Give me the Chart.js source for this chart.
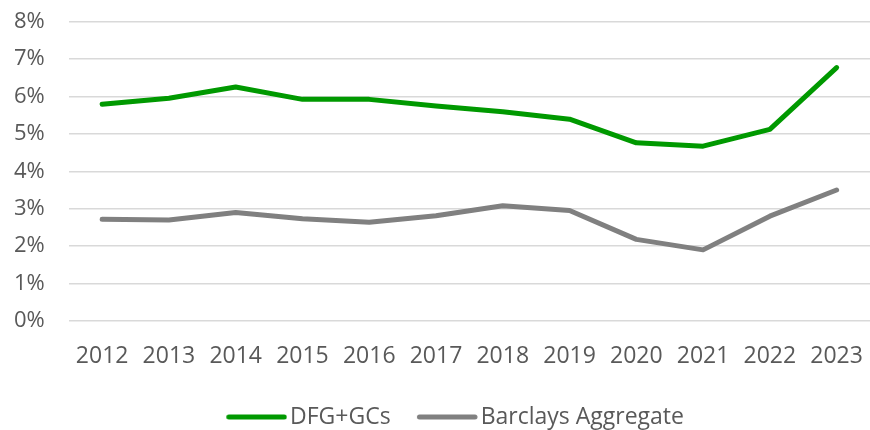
<!DOCTYPE html>
<html>
<head>
<meta charset="utf-8">
<script src="https://cdn.jsdelivr.net/npm/chart.js@4.4.1/dist/chart.umd.min.js"></script>
<style>
	html, body { margin: 0; padding: 0; background: #ffffff; overflow: hidden; }
	#wrap { width: 870px; height: 430px; }
</style>
</head>
<body>
<div id="wrap"><canvas id="yieldChart" width="870" height="430"></canvas></div>
<script>
var years = ['2012', '2013', '2014', '2015', '2016', '2017', '2018', '2019', '2020', '2021', '2022', '2023']
var dfgValues = [5.79, 5.95, 6.25, 5.92, 5.92, 5.74, 5.59, 5.39, 4.76, 4.67, 5.12, 6.77]
var barclaysValues = [2.72, 2.70, 2.90, 2.73, 2.64, 2.81, 3.08, 2.95, 2.18, 1.90, 2.80, 3.50]
var yTicks = [0, 1, 2, 3, 4, 5, 6, 7, 8]

// legend swatch: a short thick line pushed to the right of its box,
// so it sits close to the label like in the original
function legendLine(color)
{
	var c = document.createElement('canvas')
	c.width = 93
	c.height = 10
	var g = c.getContext('2d')
	g.strokeStyle = color
	g.lineWidth = 5
	g.lineCap = 'round'
	g.beginPath()
	g.moveTo(34.5, 5)
	g.lineTo(90, 5)
	g.stroke()
	return c
}

window.onload = function()
{
	var ctx = document.getElementById('yieldChart')
	var textColor = '#595959'
	var fontFamily = "'Open Sans', 'Noto Sans', sans-serif"

	// tick padding leaks into the side padding of the axes, so the gaps
	// between labels and plot come from invisible tick marks instead
	var chart = new Chart(ctx, {
		type: 'line',
		data: {
			labels: years,
			datasets: [{
				label: 'DFG+GCs',
				data: dfgValues,
				borderColor: '#009900',
				backgroundColor: '#009900',
				borderWidth: 5,
				borderCapStyle: 'round',
				borderJoinStyle: 'round',
				pointRadius: 0,
				pointStyle: legendLine('#009900'),
				tension: 0
			},
			{
				label: 'Barclays Aggregate',
				data: barclaysValues,
				borderColor: '#808080',
				backgroundColor: '#808080',
				borderWidth: 5,
				borderCapStyle: 'round',
				borderJoinStyle: 'round',
				pointRadius: 0,
				pointStyle: legendLine('#808080'),
				tension: 0
			}]
		},
		options: {
			responsive: false,
			animation: false,
			layout: {
				padding: { left: 14, right: -3, top: 21.5, bottom: -8.5 }
			},
			plugins: {
				tooltip: { enabled: false },
				legend: {
					position: 'bottom',
					labels: {
						usePointStyle: true,
						pointStyleWidth: 75.5,
						padding: 3,
						color: textColor,
						font: { family: fontFamily, size: 23 }
					}
				}
			},
			scales: {
				x: {
					offset: true,
					grid: {
						display: true,
						drawOnChartArea: false,
						color: 'transparent',
						tickColor: 'transparent',
						drawTicks: true,
						tickLength: 22
					},
					border: { display: false },
					ticks: {
						color: textColor,
						padding: 0,
						maxRotation: 0,
						autoSkip: false,
						font: { family: fontFamily, size: 23 }
					},
					afterFit: function(axis)
					{
						axis.height = 81.5
					}
				},
				y: {
					min: yTicks[0],
					max: yTicks[yTicks.length - 1],
					afterBuildTicks: function(axis)
					{
						axis.ticks = yTicks.map(function(v){ return { value: v } })
					},
					grid: {
						color: '#d9d9d9',
						lineWidth: 1.5,
						drawTicks: true,
						tickColor: 'transparent',
						tickLength: 24
					},
					border: { display: false },
					ticks: {
						color: textColor,
						padding: 0,
						font: { family: fontFamily, size: 22 },
						callback: function(v){ return v + '%' }
					}
				}
			}
		}
	})
}
</script>
</body>
</html>
